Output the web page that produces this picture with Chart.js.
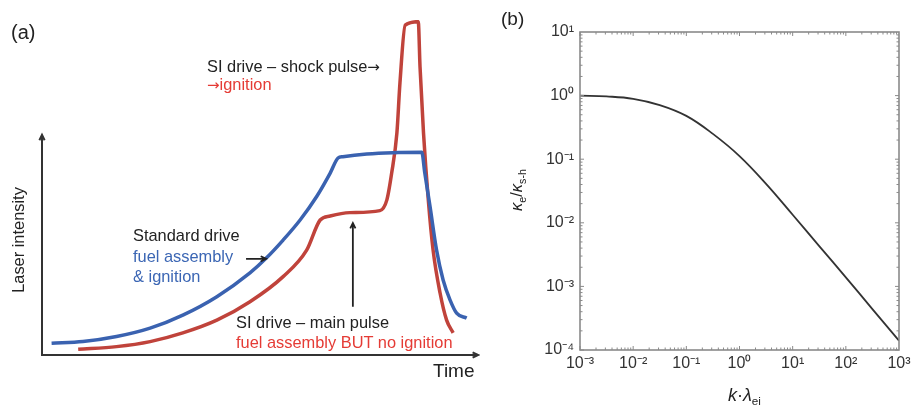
<!DOCTYPE html>
<html><head><meta charset="utf-8">
<script src="https://cdn.jsdelivr.net/npm/chart.js@4.4.1/dist/chart.umd.min.js"></script>
<style>
body{margin:0;background:#fff;width:912px;height:409px;overflow:hidden;position:relative;font-family:"Liberation Sans",Arial,sans-serif;}
canvas{position:absolute;top:0}
#ca{left:0}
#cb{left:480px}
.t{position:absolute;white-space:nowrap;line-height:1;color:#222;font-size:16.4px}
.blue{color:#3b66b4}
.red{color:#e53b35}
.ar{font-family:"DejaVu Sans",sans-serif;font-size:15px}
.rot{transform:translate(-50%,-50%) rotate(-90deg);transform-origin:center center}
sub{font-size:65%;vertical-align:-0.35em}
</style></head><body>
<canvas id="ca" width="480" height="409"></canvas>
<canvas id="cb" width="432" height="409"></canvas>

<div class="t" style="left:11px;top:22px;font-size:20px">(a)</div>
<div class="t rot" style="left:18px;top:240px;font-size:16.4px">Laser intensity</div>
<div class="t" style="left:433px;top:361px;font-size:19px">Time</div>
<div class="t" style="left:133px;top:227px">Standard drive</div>
<div class="t blue" style="left:133px;top:247.5px">fuel assembly</div>
<div class="t blue" style="left:133px;top:267.5px">&amp; ignition</div>
<div class="t" style="left:207px;top:58px">SI drive – shock pulse<span class="ar">→</span></div>
<div class="t red" style="left:207px;top:76px"><span class="ar">→</span>ignition</div>
<div class="t" style="left:236px;top:314px">SI drive – main pulse</div>
<div class="t red" style="left:236px;top:334px">fuel assembly BUT no ignition</div>

<div class="t" style="left:501px;top:8.5px;font-size:19px">(b)</div>
<div class="t rot" style="left:518px;top:190px;font-size:16.5px"><i>κ</i><sub>e</sub>/<i>κ</i><sub>s-h</sub></div>
<div class="t" style="left:728px;top:386px;font-size:18px"><i>k</i>·<i>λ</i><sub>ei</sub></div>

<script>
// ---------- Panel (a) data: schematic laser pulse shapes (time, intensity in arbitrary 0-100 units)
const standardTime      = [2.2, 9.4, 17.1, 24.8, 32.3, 40.1, 47.7, 51.5, 55.3, 59.2, 63.0, 66.1, 67.9, 69.0, 74.5, 80.5, 87.1, 87.8, 89.0, 90.5, 92.0, 93.6, 95.1, 97.4];
const standardIntensity = [3.5, 4.0, 5.5, 8.0, 11.9, 17.4, 24.5, 29.0, 34.3, 40.3, 47.3, 54.3, 58.8, 59.2, 60.0, 60.4, 60.5, 54.3, 44.3, 31.3, 22.4, 16.4, 12.5, 11.0];
const siTime      = [8.3, 17.1, 24.8, 32.3, 40.1, 47.7, 55.3, 60.7, 63.8, 66.1, 70.6, 77.5, 79.1, 80.2, 81.4, 82.1, 83.3, 86.3, 86.7, 87.5, 88.6, 89.7, 91.3, 92.8, 94.3];
const siIntensity = [1.7, 2.5, 4.0, 6.6, 10.4, 15.9, 23.4, 31.3, 40.3, 41.5, 42.5, 43.1, 46.3, 54.3, 66.3, 81.2, 98.5, 99.5, 86.1, 66.3, 46.3, 31.3, 18.5, 10.4, 6.6];
// axis extents and annotation arrows (data units)
const axisXEnd = 100, axisYEnd = 65.7;
const arrowStandard = [[46.8, 28.7], [51.4, 28.7]];
const arrowMain = [[71.3, 14.4], [71.3, 39.4]];

// ---------- Panel (b) data
const kLambda    = [0.001, 0.00316, 0.01, 0.0316, 0.1, 0.316, 1, 3.16, 10, 31.6, 100, 316, 1000];
const kappaRatio = [1.0, 0.97, 0.89, 0.71, 0.48, 0.25, 0.112, 0.041, 0.0134, 0.0043, 0.00139, 0.00044, 0.00014];
const xDecades = [1e-3, 1e-2, 1e-1, 1e0, 1e1, 1e2, 1e3];
const yDecades = [1e-4, 1e-3, 1e-2, 1e-1, 1e0, 1e1];

const zip = (xs, ys) => xs.map((x, i) => ({x, y: ys[i]}));

function arrow(ctx, x1, y1, x2, y2, head) {
  const a = Math.atan2(y2 - y1, x2 - x1);
  ctx.beginPath();
  ctx.moveTo(x1, y1); ctx.lineTo(x2, y2);
  ctx.moveTo(x2 - head * Math.cos(a - 0.45), y2 - head * Math.sin(a - 0.45));
  ctx.lineTo(x2, y2);
  ctx.lineTo(x2 - head * Math.cos(a + 0.45), y2 - head * Math.sin(a + 0.45));
  ctx.stroke();
}

const panelAPlugin = {
  id: 'panelA',
  beforeDatasetsDraw(chart) {
    const {ctx, scales: {x, y}} = chart;
    ctx.save();
    ctx.strokeStyle = '#333'; ctx.lineWidth = 2; ctx.lineCap = 'butt';
    const ox = x.getPixelForValue(0), oy = y.getPixelForValue(0);
    arrow(ctx, ox, oy, ox, y.getPixelForValue(axisYEnd), 6);
    arrow(ctx, ox - 1, oy, x.getPixelForValue(axisXEnd), oy, 6);
    ctx.restore();
  },
  afterDatasetsDraw(chart) {
    const {ctx, scales: {x, y}} = chart;
    ctx.save();
    ctx.strokeStyle = '#222'; ctx.lineWidth = 1.8;
    for (const ar of [arrowStandard, arrowMain]) {
      arrow(ctx, x.getPixelForValue(ar[0][0]), y.getPixelForValue(ar[0][1]),
                 x.getPixelForValue(ar[1][0]), y.getPixelForValue(ar[1][1]), 6);
    }
    ctx.restore();
  }
};

new Chart(document.getElementById('ca'), {
  type: 'scatter',
  data: {
    datasets: [
      {data: zip(standardTime, standardIntensity), showLine: true, borderColor: '#3a62b0', borderWidth: 3.5, pointRadius: 0, cubicInterpolationMode: 'monotone', fill: false},
      {data: zip(siTime, siIntensity), showLine: true, borderColor: '#c0433b', borderWidth: 3.5, pointRadius: 0, cubicInterpolationMode: 'monotone', fill: false}
    ]
  },
  options: {
    responsive: false, animation: false,
    layout: {padding: {left: 42, top: 20, right: 2, bottom: 54}},
    plugins: {legend: {display: false}, tooltip: {enabled: false}},
    scales: {
      x: {type: 'linear', min: 0, max: 100, display: false},
      y: {type: 'linear', min: 0, max: 100, display: false}
    }
  },
  plugins: [panelAPlugin]
});

const SUP = {'0':'⁰','1':'¹','2':'²','3':'³','4':'⁴','5':'⁵','-':'⁻'};
const fmt = v => { const e = Math.round(Math.log10(v)); return '10' + String(e).split('').map(c => SUP[c]).join(''); };

const boxPlugin = {
  id: 'box',
  afterDraw(chart) {
    const {ctx, chartArea: a, scales: {x, y}} = chart;
    ctx.save();
    ctx.strokeStyle = '#8a8a8a'; ctx.lineWidth = 1;
    for (let e = -3; e < 3; e++) for (let m = 1; m < 10; m++) {
      const px = x.getPixelForValue(m * Math.pow(10, e));
      const L = m === 1 ? 4 : 2.5;
      ctx.beginPath();
      ctx.moveTo(px, a.bottom); ctx.lineTo(px, a.bottom - L);
      ctx.moveTo(px, a.top); ctx.lineTo(px, a.top + L);
      ctx.stroke();
    }
    for (let e = -4; e < 1; e++) for (let m = 1; m < 10; m++) {
      const py = y.getPixelForValue(m * Math.pow(10, e));
      const L = m === 1 ? 4 : 2.5;
      ctx.beginPath();
      ctx.moveTo(a.left, py); ctx.lineTo(a.left + L, py);
      ctx.moveTo(a.right, py); ctx.lineTo(a.right - L, py);
      ctx.stroke();
    }
    ctx.lineWidth = 1.6;
    ctx.strokeRect(a.left, a.top, a.right - a.left, a.bottom - a.top);
    ctx.restore();
  }
};

new Chart(document.getElementById('cb'), {
  type: 'scatter',
  data: {
    datasets: [{data: zip(kLambda, kappaRatio), showLine: true, borderColor: '#333', borderWidth: 1.8, pointRadius: 0, tension: 0.4, fill: false}]
  },
  options: {
    responsive: false, animation: false,
    layout: {padding: {left: 40, right: 13, top: 32, bottom: 29}},
    plugins: {legend: {display: false}, tooltip: {enabled: false}},
    scales: {
      x: {
        type: 'logarithmic', min: 1e-3, max: 1e3,
        afterBuildTicks: s => { s.ticks = xDecades.map(v => ({value: v})); },
        afterFit: s => { s.height = 30; s.paddingLeft = 0; s.paddingRight = 0; },
        grid: {display: false, drawTicks: false}, border: {display: false},
        ticks: {callback: v => fmt(v), color: '#333', font: {size: 16, family: 'Liberation Sans'}, padding: 4, maxRotation: 0, autoSkip: false}
      },
      y: {
        type: 'logarithmic', min: 1e-4, max: 10,
        afterBuildTicks: s => { s.ticks = yDecades.map(v => ({value: v})); },
        afterFit: s => { s.width = 60; s.paddingTop = 0; s.paddingBottom = 0; },
        grid: {display: false, drawTicks: false}, border: {display: false},
        ticks: {callback: v => fmt(v), color: '#333', font: {size: 16, family: 'Liberation Sans'}, padding: 6, autoSkip: false}
      }
    }
  },
  plugins: [boxPlugin]
});
</script>
</body></html>
